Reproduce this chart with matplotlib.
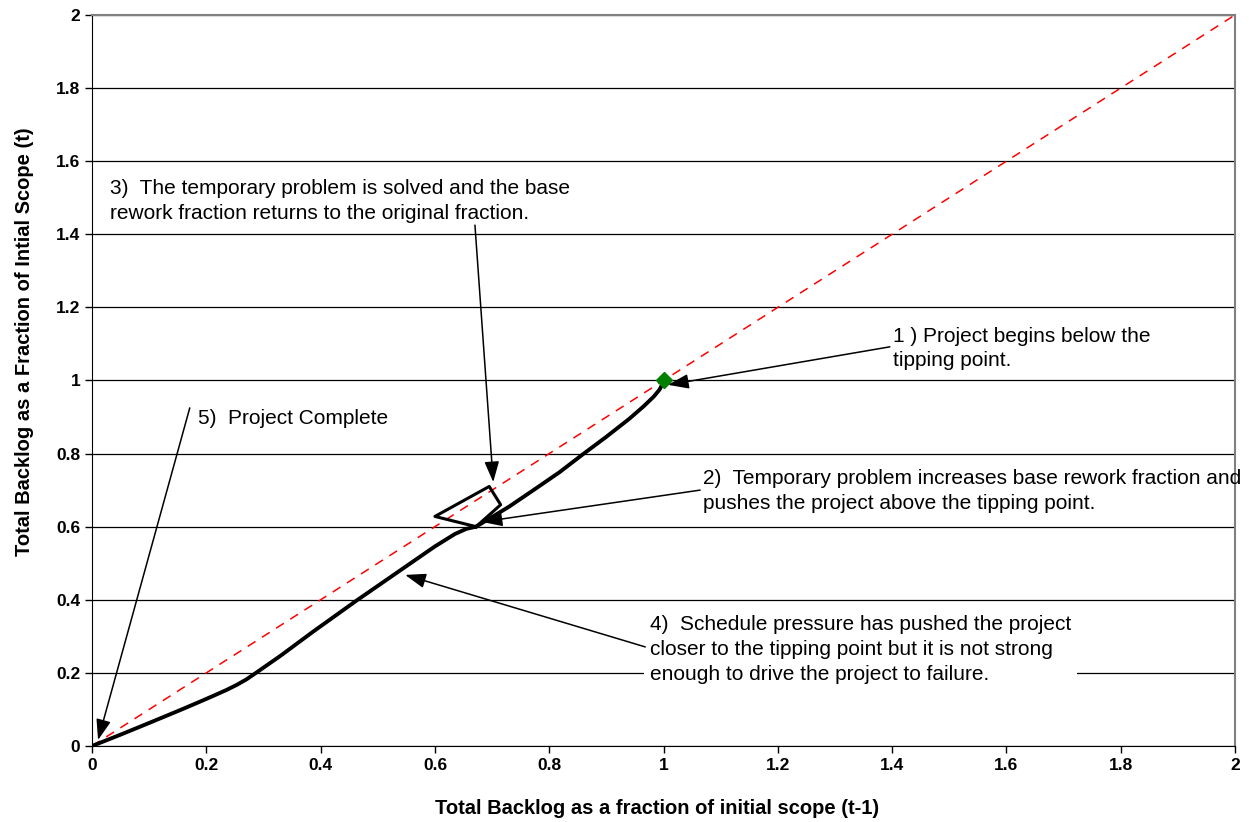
import matplotlib
matplotlib.use("Agg")
import matplotlib.pyplot as plt
from matplotlib.ticker import MultipleLocator

# project trajectory (backlog t-1, backlog t)
lower_x = [0, 0.05, 0.1, 0.154, 0.19, 0.212, 0.235, 0.253, 0.27, 0.285, 0.33, 0.387,
           0.463, 0.55, 0.6, 0.635, 0.655, 0.672]
lower_y = [0, 0.031, 0.063, 0.098, 0.122, 0.137, 0.153, 0.167, 0.182, 0.198, 0.247, 0.313,
           0.398, 0.492, 0.546, 0.58, 0.594, 0.6]
loop_x = [0.672, 0.715, 0.695, 0.6, 0.672]
loop_y = [0.6, 0.66, 0.71, 0.628, 0.6]
upper_x = [0.672, 0.73, 0.778, 0.818, 0.858, 0.9, 0.94, 0.965, 0.983, 0.993, 0.998]
upper_y = [0.6, 0.655, 0.706, 0.749, 0.797, 0.846, 0.895, 0.929, 0.956, 0.975, 0.99]
diag = [0, 2]
start_pt = (1, 1)

plt.rcParams['font.family'] = ['Liberation Sans', 'DejaVu Sans']

fig = plt.figure(figsize=(12.49, 8.22), dpi=100)
ax = fig.add_axes([0.0737, 0.0925, 0.9151, 0.8893])

ax.set_xlim(0, 2)
ax.set_ylim(0, 2)
ax.xaxis.set_major_locator(MultipleLocator(0.2))
ax.yaxis.set_major_locator(MultipleLocator(0.2))
fmt = lambda v, p: ('%g' % round(v, 2))
ax.xaxis.set_major_formatter(fmt)
ax.yaxis.set_major_formatter(fmt)
ax.grid(axis='y', color='black', linewidth=0.9, zorder=0)
ax.set_axisbelow(True)
ax.tick_params(direction='out', length=5, width=1, labelsize=12.5)
for lab in ax.get_xticklabels() + ax.get_yticklabels():
    lab.set_fontweight('bold')
for s in ['top', 'right']:
    ax.spines[s].set_color('#808080')
    ax.spines[s].set_linewidth(1.5)

ax.plot(diag, diag, color='red', linestyle=(0, (6, 5)), linewidth=1.1, zorder=2)
ax.plot(lower_x, lower_y, color='black', linewidth=2.8, zorder=3,
        solid_joinstyle='round', solid_capstyle='round')
ax.plot(loop_x, loop_y, color='black', linewidth=2.2, zorder=3)
ax.plot(upper_x, upper_y, color='black', linewidth=2.8, zorder=3,
        solid_joinstyle='round', solid_capstyle='round')
ax.plot([start_pt[0]], [start_pt[1]], marker='D', color='green', markersize=8, zorder=4)

ax.set_xlabel('Total Backlog as a fraction of initial scope (t-1)', fontsize=14.5,
              fontweight='bold', labelpad=20)
ax.xaxis.set_label_coords(0.494, -0.072)
ax.set_ylabel('Total Backlog as a Fraction of Intial Scope (t)', fontsize=14.5,
              fontweight='bold', labelpad=20)
ax.yaxis.set_label_coords(-0.051, 0.553)

arrow = dict(arrowstyle='-|>,head_length=0.7,head_width=0.25', color='black', lw=1.1,
             mutation_scale=18, shrinkA=0, shrinkB=0)
tkw = dict(fontsize=15, va='top', ha='left', linespacing=1.38, zorder=5)

ax.text(1.402, 1.147, '1 ) Project begins below the\ntipping point.', **tkw)
ax.annotate('', xy=(1.008, 0.988), xytext=(1.396, 1.092), arrowprops=arrow, zorder=6)

ax.text(1.069, 0.758, '2)  Temporary problem increases base rework fraction and\n'
        'pushes the project above the tipping point.', **tkw)
ax.annotate('', xy=(0.682, 0.613), xytext=(1.064, 0.700), arrowprops=arrow, zorder=6)

ax.text(0.0315, 1.551, '3)  The temporary problem is solved and the base\n'
        'rework fraction returns to the original fraction.', **tkw)
ax.annotate('', xy=(0.702, 0.722), xytext=(0.670, 1.425), arrowprops=arrow, zorder=6)

ax.text(0.976, 0.357, '4)  Schedule pressure has pushed the project\n'
        'closer to the tipping point but it is not strong\n'
        'enough to drive the project to failure.',
        bbox=dict(boxstyle='square,pad=0.3', facecolor='white', edgecolor='none'), **tkw)
ax.annotate('', xy=(0.548, 0.468), xytext=(0.968, 0.271), arrowprops=arrow, zorder=6)

ax.text(0.1855, 0.922, '5)  Project Complete', **tkw)
ax.annotate('', xy=(0.0105, 0.0164), xytext=(0.171, 0.925), arrowprops=arrow, zorder=6)

fig.savefig('out.png', dpi=100)
